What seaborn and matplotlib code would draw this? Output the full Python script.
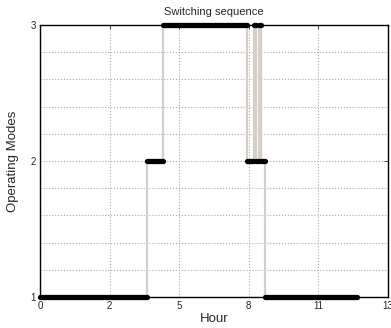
import numpy as np
import pandas as pd
import seaborn as sns
import matplotlib
matplotlib.use('Agg')
import matplotlib.pyplot as plt
from matplotlib.ticker import MultipleLocator, FixedLocator

# --- Data: operating mode segments (hours) ---
seg_start = [0.0, 4.0, 4.6, 7.74, 7.99, 8.09, 8.2, 8.28, 8.42]
seg_end = [4.0, 4.6, 7.74, 7.99, 8.09, 8.2, 8.28, 8.42, 11.85]
seg_mode = [1, 2, 3, 2, 3, 2, 3, 2, 1]

x_tick_pos = [0, 2.6, 5.2, 7.8, 10.4, 13]
x_tick_labels = ['0', '2', '5', '8', '11', '13']
y_tick_labels = ['1', '2', '3']

sns.set_style('white')
plt.rcParams['font.family'] = ['Liberation Sans', 'DejaVu Sans']

# step line through switch points (grey transitions)
step_df = pd.DataFrame({'Hour': seg_start + [seg_end[-1]],
                        'Mode': seg_mode + [seg_mode[-1]]})

# thick segments (one unit per segment)
rows = []
for i, (s, e, m) in enumerate(zip(seg_start, seg_end, seg_mode)):
    rows.append({'Hour': s, 'Mode': m, 'seg': i})
    rows.append({'Hour': e, 'Mode': m, 'seg': i})
seg_df = pd.DataFrame(rows)

fig = plt.figure(figsize=(3.91, 3.28), dpi=100)
ax = fig.add_axes([0.1023, 0.0945, 0.889, 0.829])

sns.lineplot(data=step_df, x='Hour', y='Mode', estimator=None, sort=False,
             color='#d4d0c8', linewidth=1.6, drawstyle='steps-post', ax=ax)
sns.lineplot(data=seg_df, x='Hour', y='Mode', units='seg', estimator=None, sort=False,
             color='black', linewidth=3.8, solid_capstyle='round', ax=ax, clip_on=False)

ax.set_xlim(0, 13)
ax.set_ylim(1, 3)
ax.xaxis.set_major_locator(FixedLocator(x_tick_pos))
ax.set_xticklabels(x_tick_labels)
ax.yaxis.set_major_locator(FixedLocator([1, 2, 3]))
ax.set_yticklabels(y_tick_labels)
ax.yaxis.set_minor_locator(MultipleLocator(0.2))

ax.grid(True, which='major', axis='x', linestyle=':', color='#aaaaaa', linewidth=0.8)
ax.grid(True, which='both', axis='y', linestyle=':', color='#aaaaaa', linewidth=0.8)
ax.tick_params(axis='both', which='major', direction='in', length=3, width=0.6,
               labelsize=7, top=True, right=True, pad=3)
ax.tick_params(axis='y', which='minor', length=0)

for sp in ax.spines.values():
    sp.set_color('black')
    sp.set_linewidth(1.0)

ax.set_title('Switching sequence', fontsize=8, pad=7)
ax.set_xlabel('Hour', fontsize=9.5, labelpad=1)
ax.set_ylabel('Operating Modes', fontsize=9.5, labelpad=8)

fig.savefig('out.png', dpi=100)
